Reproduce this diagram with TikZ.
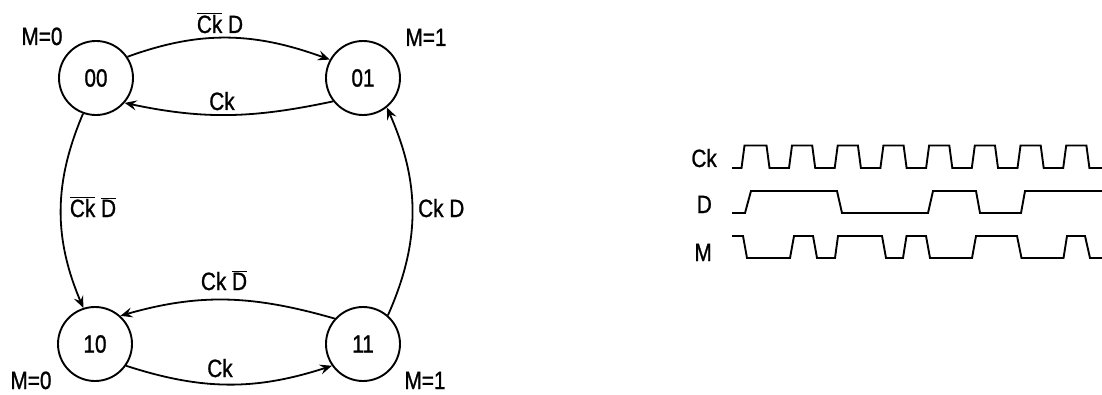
\documentclass[tikz,border=0pt]{standalone}
\usepackage{fontspec}
\setmainfont[FakeStretch=0.83, FakeBold=1]{Liberation Sans}
\usetikzlibrary{arrows.meta}
\newcommand\ovl[1]{$\overline{\mbox{#1}}$}
\tikzset{
  state/.style={circle, draw, line width=1.9pt, minimum size=74pt, inner sep=0pt},
  trans/.style={line width=1.8pt, -{Stealth[length=12pt,width=10pt,inset=4.5pt]}},
  lbl/.style={inner sep=0pt, anchor=base},
  wave/.style={line width=1.9pt},
}
\begin{document}
\begin{tikzpicture}[x=1pt, y=1pt, font=\fontsize{25}{29}\selectfont]
\useasboundingbox (0,0) rectangle (1102,394);

% states of the machine
\node[state] (s00) at (96,316) {00};
\node[state] (s01) at (363,316) {01};
\node[state] (s10) at (95,50) {10};
\node[state] (s11) at (363,50) {11};

% outputs
\node[lbl] (m00) at (42,349) {M=0};
\node[lbl] (m01) at (426,348) {M=1};
\node[lbl] (m10) at (31,5) {M=0};
\node[lbl] (m11) at (425,5) {M=1};

% transitions
\draw[trans] (s00.34) to[out=20,in=160] (s01.151);
\draw[trans] (s01.218) to[out=192,in=-12] (s00.-41);
\draw[trans] (s11.138) to[out=164,in=16] (s10.48);
\draw[trans] (s10.-35) to[out=-18,in=198] (s11.215);
\draw[trans] (s00.-110) to[out=247,in=113] (s10.108);
\draw[trans] (s11.49) to[out=66,in=-66] (s01.-51);

% transition conditions
\node[lbl] (c1) at (220,361) {\ovl{Ck} D};
\node[lbl] (c2) at (222,284) {Ck};
\node[lbl] (c3) at (224,104) {Ck \ovl{D}};
\node[lbl] (c4) at (220,17) {Ck};
\node[lbl] (c5) at (93,177) {\ovl{Ck} \ovl{D}};
\node[lbl, anchor=base west] (c6) at (418,177) {Ck D};

% timing diagram
\node[lbl, anchor=base east] (wck) at (717,227) {Ck};
\node[lbl, anchor=base east] (wd) at (712,181) {D};
\node[lbl, anchor=base east] (wm) at (712,133) {M};

\draw[wave] (732,226) -- (741.5,226) -- (744.5,248.5)
  \foreach \k in {0,...,6} {
    -- ({766.5+45.7*\k},248.5) -- ({769.5+45.7*\k},226)
    -- ({789+45.7*\k},226) -- ({792+45.7*\k},248.5)
  }
  -- (1086.4,248.5) -- (1089.4,226) -- (1102,226);

\draw[wave] (732,181) -- (745,181) -- (751,203) -- (837,203) -- (842,181)
  -- (928,181) -- (933,203) -- (976,203) -- (980,181) -- (1021,181)
  -- (1025,203) -- (1102,203);

\draw[wave] (732,158) -- (743,158) -- (747,136) -- (790,136) -- (794,158)
  -- (813,158) -- (817,136) -- (835,136) -- (838,158) -- (882,158)
  -- (886,136) -- (903,136) -- (906.5,158) -- (926,158) -- (930,136)
  -- (972,136) -- (976,158) -- (1017,158) -- (1021.5,136) -- (1063.5,136)
  -- (1067,158) -- (1085,158) -- (1090,136) -- (1102,136);
\end{tikzpicture}
\end{document}
